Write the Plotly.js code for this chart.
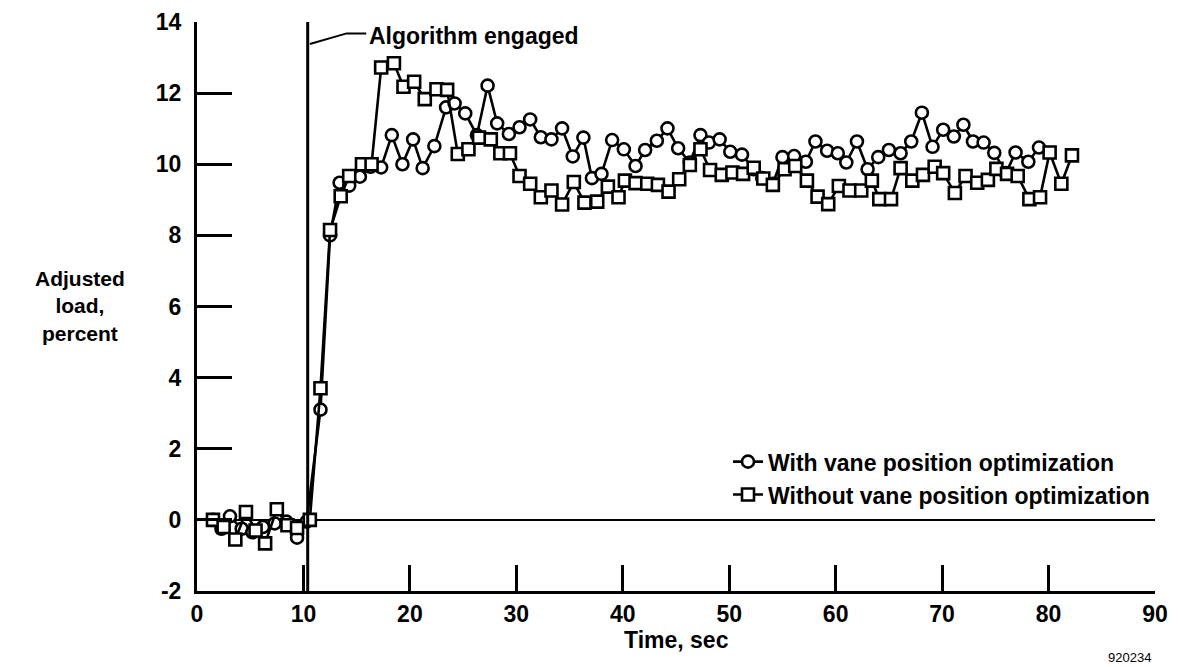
<!DOCTYPE html>
<html>
<head>
<meta charset="utf-8">
<script src="https://cdn.plot.ly/plotly-3.0.1.min.js"></script>
<style>html,body{margin:0;padding:0;background:#fff;}#chart{width:1179px;height:667px;}</style>
</head>
<body>
<div id="chart"></div>
<script>
// Time, sec — series "With vane position optimization" (circles)
const timeWith = [1.5,2.3,3.1,4.2,5.2,6.2,7.3,8.4,9.4,10.3,11.6,12.5,13.4,14.3,15.3,16.3,17.3,18.3,19.3,20.3,21.2,22.3,23.4,24.2,25.2,26.3,27.3,28.2,29.3,30.3,31.3,32.3,33.3,34.3,35.3,36.3,37.1,38.0,39.0,40.1,41.2,42.1,43.2,44.2,45.2,46.3,47.3,48.1,49.1,50.1,51.2,52.3,53.1,54.1,55.0,56.1,57.2,58.1,59.2,60.2,61.0,62.0,63.0,64.0,65.0,66.1,67.1,68.1,69.1,70.1,71.1,72.0,72.9,73.9,74.9,76.0,76.9,78.1,79.1];
const loadWith = [0.0,-0.25,0.1,-0.25,-0.35,-0.2,-0.1,-0.05,-0.5,-0.05,3.1,8.0,9.48,9.4,9.65,9.93,9.91,10.82,10.0,10.7,9.89,10.51,11.6,11.71,11.43,10.82,12.21,11.15,10.85,11.04,11.26,10.76,10.7,11.01,10.22,10.75,9.61,9.73,10.68,10.42,9.95,10.4,10.66,11.01,10.45,10.05,10.82,10.61,10.7,10.35,10.27,9.86,9.61,9.45,10.2,10.23,10.07,10.64,10.38,10.31,10.05,10.64,9.86,10.2,10.4,10.31,10.64,11.45,10.49,10.97,10.78,11.11,10.64,10.61,10.32,9.75,10.33,10.07,10.47];

// Time, sec — series "Without vane position optimization" (squares)
const timeWithout = [1.5,2.5,3.6,4.6,5.5,6.4,7.5,8.5,9.4,10.6,11.6,12.5,13.5,14.3,15.5,16.4,17.3,18.5,19.4,20.4,21.4,22.5,23.5,24.5,25.5,26.5,27.6,28.5,29.4,30.3,31.3,32.3,33.3,34.3,35.4,36.4,37.6,38.6,39.6,40.2,41.2,42.3,43.3,44.3,45.3,46.3,47.3,48.2,49.3,50.3,51.3,52.3,53.2,54.1,55.2,56.2,57.3,58.3,59.3,60.3,61.3,62.4,63.4,64.1,65.2,66.1,67.2,68.2,69.3,70.1,71.2,72.2,73.3,74.3,75.1,76.1,77.1,78.2,79.2,80.1,81.2,82.2];
const loadWithout = [0.0,-0.2,-0.55,0.22,-0.3,-0.66,0.3,-0.15,-0.23,0.0,3.7,8.15,9.1,9.67,10.0,10.0,12.72,12.84,12.18,12.32,11.83,12.11,12.09,10.29,10.42,10.75,10.7,10.31,10.31,9.67,9.45,9.07,9.26,8.87,9.5,8.92,8.95,9.37,9.07,9.54,9.47,9.45,9.42,9.23,9.58,9.98,10.42,9.84,9.7,9.77,9.73,9.9,9.6,9.42,9.86,9.95,9.54,9.09,8.88,9.39,9.26,9.26,9.54,9.02,9.02,9.89,9.54,9.7,9.93,9.75,9.19,9.67,9.48,9.56,9.87,9.73,9.67,9.02,9.07,10.33,9.45,10.25];

const seriesNames = ['With vane position optimization', 'Without vane position optimization'];
const xTickVals = [0,10,20,30,40,50,60,70,80,90];
const xTickText = ['0','10','20','30','40','50','60','70','80','90'];
const yTickVals = [-2,0,2,4,6,8,10,12,14];
const yTickText = ['-2','0','2','4','6','8','10','12','14'];
const algorithmTime = 10.4;
const algorithmLabel = 'Algorithm engaged';
const xTitle = 'Time, sec';
const yTitle = 'Adjusted<br>load,<br>percent';
const figureId = '920234';

const FONT = 'Liberation Sans, Arial, Helvetica, sans-serif';
const bold = (size) => ({family: FONT, size: size, color: '#000', weight: 'bold'});

const traces = [
  {
    x: timeWith, y: loadWith, name: seriesNames[0], type: 'scatter', mode: 'lines+markers',
    line: {color: '#000', width: 2.6},
    marker: {symbol: 'circle', size: 12, color: '#fff', line: {color: '#000', width: 2.6}}
  },
  {
    x: timeWithout, y: loadWithout, name: seriesNames[1], type: 'scatter', mode: 'lines+markers',
    line: {color: '#000', width: 2.6},
    marker: {symbol: 'square', size: 12, color: '#fff', line: {color: '#000', width: 2.6}}
  }
];

const layout = {
  width: 1179, height: 667,
  margin: {l: 197, r: 24, t: 22, b: 76, autoexpand: false},
  paper_bgcolor: '#fff', plot_bgcolor: '#fff',
  showlegend: true,
  legend: {x: 1.0, y: 0.265, xanchor: 'right', yanchor: 'top', bgcolor: 'rgba(0,0,0,0)', font: bold(23), tracegroupgap: 0},
  xaxis: {
    range: [0, 90], tickvals: xTickVals, ticktext: xTickText,
    showgrid: false, zeroline: false, showline: true, linecolor: '#000', linewidth: 3,
    ticks: 'inside', ticklen: 26, tickwidth: 3, tickcolor: '#000',
    tickfont: bold(23), fixedrange: true
  },
  yaxis: {
    range: [-2, 14], tickvals: yTickVals, ticktext: yTickText,
    showgrid: false, zeroline: true, zerolinecolor: '#000', zerolinewidth: 2.5,
    showline: true, linecolor: '#000', linewidth: 3,
    ticks: 'inside', ticklen: 35, tickwidth: 3, tickcolor: '#000',
    tickfont: bold(23), ticklabelstandoff: 8, fixedrange: true
  },
  shapes: [
    {type: 'line', xref: 'x', yref: 'y', x0: algorithmTime, x1: algorithmTime, y0: -2, y1: 14, line: {color: '#000', width: 3}},
    {type: 'path', xref: 'x', yref: 'y', path: 'M 10.6 13.38 L 14.06 13.68 L 15.9 13.68', line: {color: '#000', width: 2}}
  ],
  annotations: [
    {text: algorithmLabel, xref: 'x', yref: 'y', x: 16.0, y: 13.6, xanchor: 'left', yanchor: 'middle', showarrow: false, font: bold(23)},
    {text: xTitle, xref: 'paper', yref: 'paper', x: 0.5, y: -0.086, xanchor: 'center', yanchor: 'middle', showarrow: false, font: bold(23)},
    {text: yTitle, xref: 'paper', yref: 'paper', x: -0.122, y: 0.501, xanchor: 'center', yanchor: 'middle', align: 'center', showarrow: false, font: bold(21)},
    {text: figureId, xref: 'paper', yref: 'paper', x: 0.973, y: -0.116, xanchor: 'center', yanchor: 'middle', showarrow: false, font: {family: FONT, size: 13, color: '#000'}}
  ]
};

Plotly.newPlot('chart', traces, layout, {displayModeBar: false, staticPlot: true});
</script>
</body>
</html>
